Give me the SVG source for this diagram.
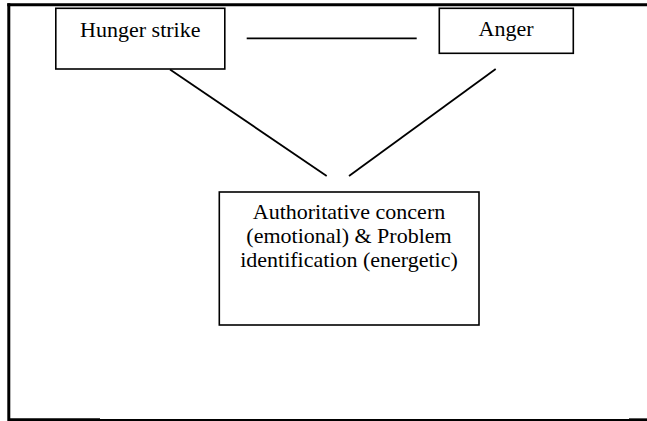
<svg xmlns="http://www.w3.org/2000/svg" width="647" height="421" viewBox="0 0 647 421">
  <style>
    .box { fill: #ffffff; stroke: #000000; stroke-width: 1.6; }
    .label { font-family: "Liberation Serif", "Times New Roman", serif; font-size: 22px; fill: #000000; text-anchor: middle; }
    .link { stroke: #000000; stroke-width: 1.8; fill: none; }
    .frame { stroke: #000000; fill: none; }
  </style>
  <rect width="647" height="421" fill="#ffffff"/>

  <!-- page frame -->
  <g id="frame">
    <line class="frame" x1="7.3" y1="4.8" x2="647" y2="4.8" stroke-width="3"/>
    <line class="frame" x1="8.8" y1="3.3" x2="8.8" y2="421" stroke-width="3"/>
    <line class="frame" x1="8" y1="420" x2="647" y2="420" stroke-width="2"/>
    <line class="frame" x1="8" y1="419.7" x2="100" y2="419.7" stroke-width="2.7"/>
    <line class="frame" x1="629" y1="419.7" x2="647" y2="419.7" stroke-width="2.7"/>
  </g>

  <!-- connectors -->
  <g id="connectors">
    <line class="link" x1="246.7" y1="38.3" x2="416.7" y2="38.3" stroke-width="2"/>
    <line class="link" x1="170" y1="69.5" x2="326.7" y2="176"/>
    <line class="link" x1="495.7" y1="69" x2="349" y2="176"/>
  </g>

  <g id="hunger-strike">
    <rect class="box" x="55.8" y="8.3" width="169" height="60.7"/>
    <text class="label" x="140.3" y="37.3">Hunger strike</text>
  </g>

  <g id="anger">
    <rect class="box" x="439.3" y="8.3" width="134" height="45"/>
    <text class="label" x="506" y="36">Anger</text>
  </g>

  <g id="concern">
    <rect class="box" x="219.3" y="192" width="259.7" height="133"/>
    <text class="label" x="349" y="219">Authoritative concern</text>
    <text class="label" x="349" y="243">(emotional) &amp; Problem</text>
    <text class="label" x="349" y="267">identification (energetic)</text>
  </g>
</svg>
